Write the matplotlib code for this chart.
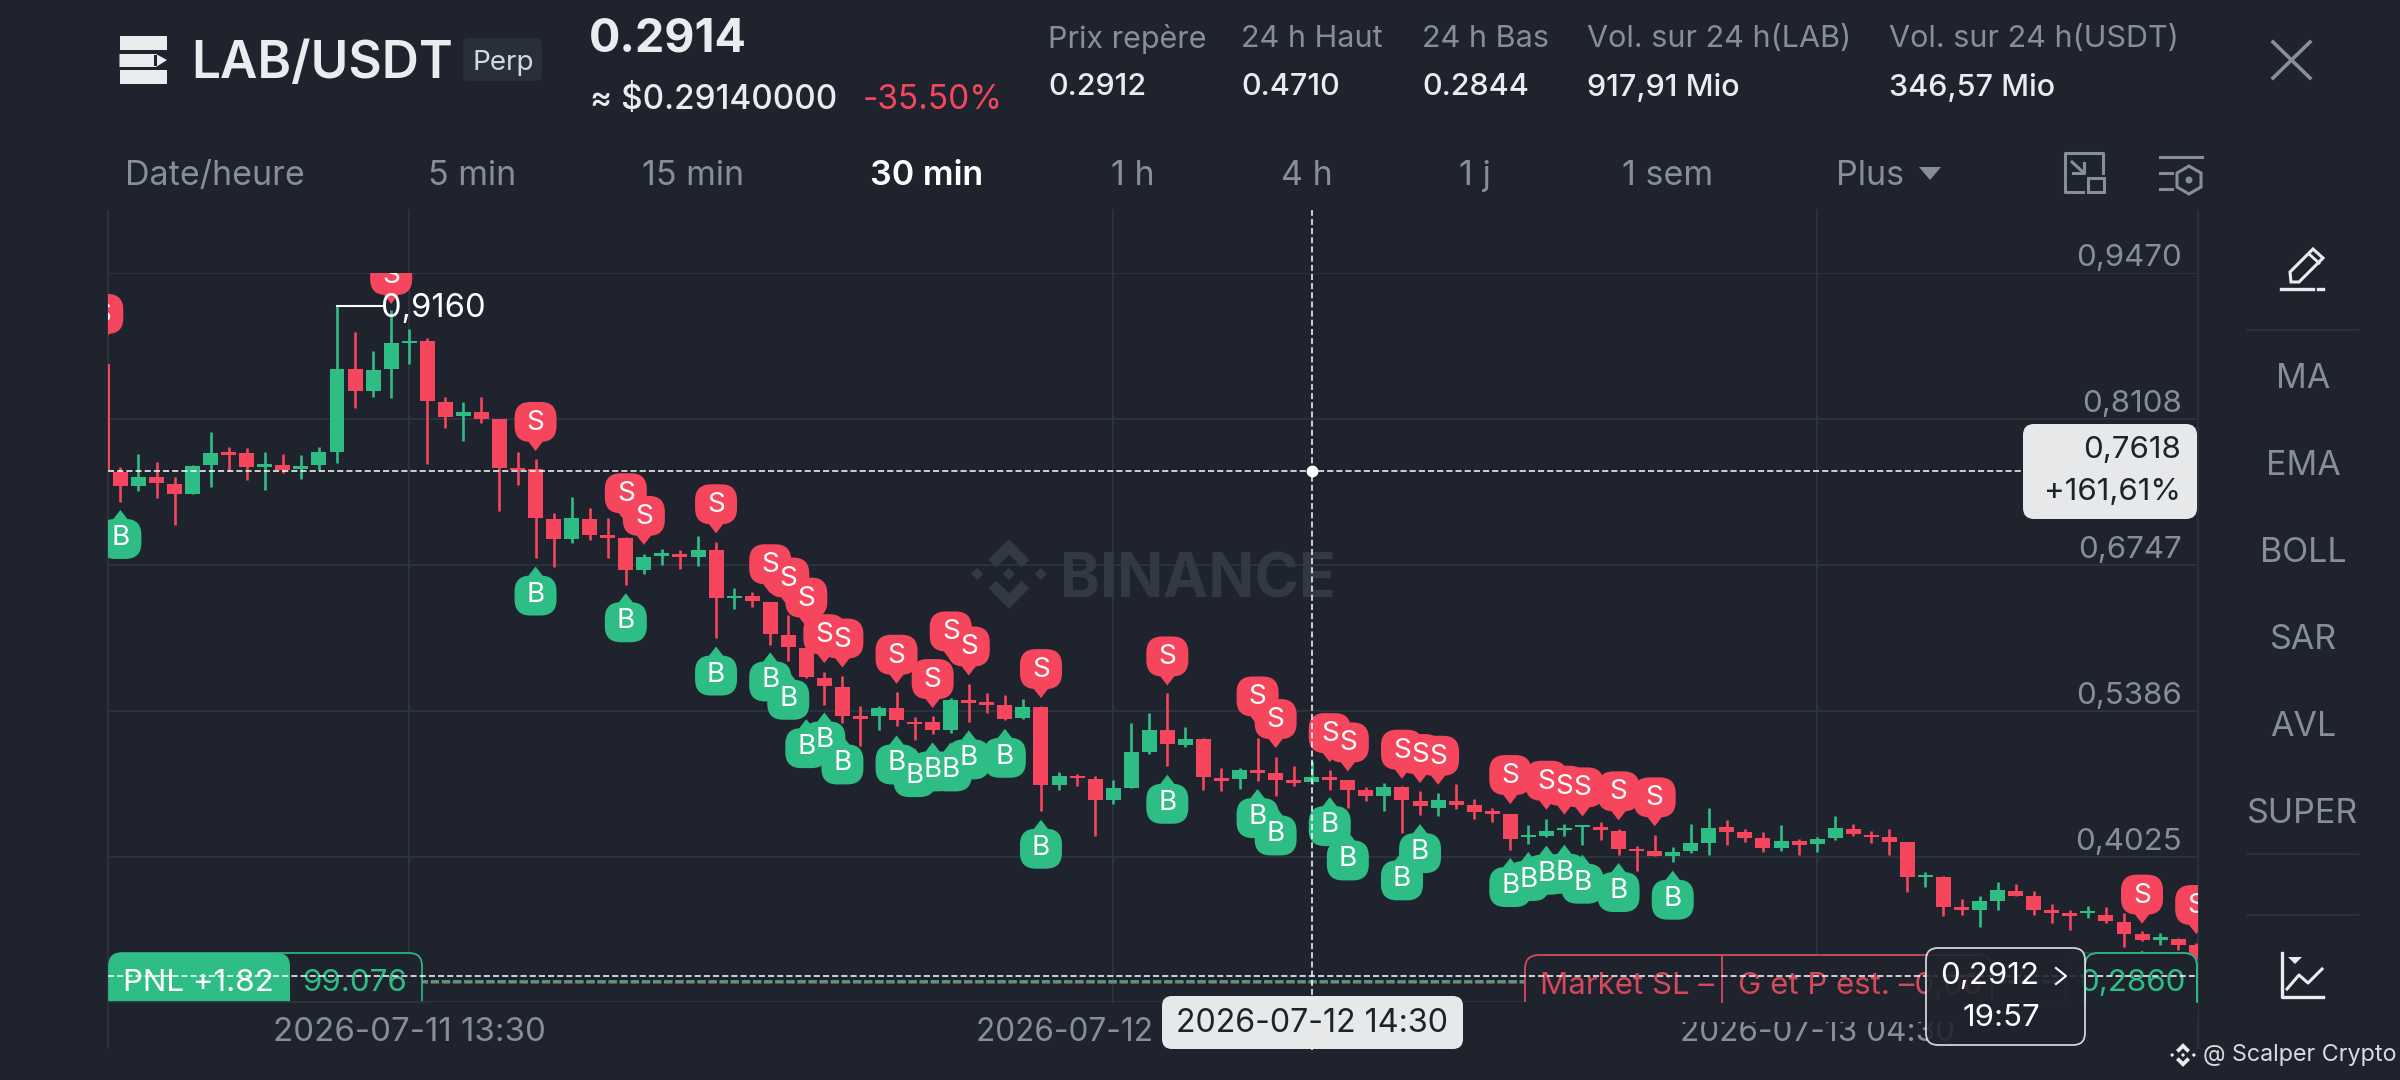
import matplotlib
matplotlib.use("Agg")
import matplotlib.pyplot as plt
from matplotlib.patches import FancyBboxPatch, PathPatch, Rectangle, Polygon, Circle
from matplotlib.path import Path
from matplotlib.transforms import Affine2D

plt.rcParams['font.family'] = ['Inter', 'DejaVu Sans']

BG = '#1e232e'
GRID = '#2e343e'
GREEN = '#2ebd85'
RED = '#f6465d'
GREY = '#878e9a'
WHITE = '#eaecef'
LIGHT = '#e6e8ea'
DARK = '#1e2329'

# candles, 30 min, index 17 = 2026-07-11 13:30
opens = [.8619, .7615, .7482, .7569, .7500, .7407, .7677, .7795, .7786, .7659,
         .7674, .7640, .7677, .7802, .8572, .8370, .8569, .8811, .8836, .8268,
         .8134, .8168, .8103, .7646, .7637, .7174, .6985, .7177, .7025, .6994,
         .6699, .6829, .6848, .6817, .6885, .6432, .6451, .6395, .6093, .5969,
         .5689, .5605, .5332, .5332, .5410, .5279, .5279, .5208, .5487, .5463,
         .5441, .5316, .5422, .4689, .4779, .4748, .4549, .4664, .5000, .5202,
         .5068, .5121, .4757, .4748, .4829, .4804, .4742, .4717, .4763, .4736,
         .4642, .4586, .4673, .4540, .4478, .4546, .4503, .4447, .4425, .4208,
         .4214, .4270, .4298, .4301, .4267, .4096, .4080, .4027, .4074, .4152,
         .4301, .4251, .4198, .4105, .4167, .4145, .4198, .4285, .4229, .4208,
         .4158, .3835, .3835, .3552, .3524, .3614, .3707, .3654, .3530, .3499,
         .3499, .3484, .3415, .3306, .3251, .3260, .3204]
highs = [.8625, .7662, .7777, .7708, .7569, .7677, .7982, .7842, .7833, .7795,
         .7780, .7767, .7848, .9160, .8920, .8740, .9122, .8942, .8858, .8314,
         .8268, .8314, .8109, .7795, .7733, .7227, .7382, .7273, .7180, .7009,
         .6848, .6894, .6885, .7016, .6957, .6528, .6497, .6401, .6280, .5969,
         .5751, .5711, .5425, .5431, .5559, .5323, .5332, .5503, .5633, .5550,
         .5534, .5494, .5425, .4810, .4795, .4779, .4742, .5270, .5363, .5550,
         .5233, .5127, .4850, .4850, .5130, .4953, .4866, .4913, .4835, .4742,
         .4670, .4711, .4680, .4633, .4617, .4702, .4562, .4478, .4425, .4316,
         .4378, .4332, .4316, .4347, .4285, .4127, .4229, .4114, .4329, .4478,
         .4369, .4282, .4251, .4316, .4192, .4204, .4406, .4329, .4267, .4285,
         .4161, .3878, .3841, .3630, .3661, .3785, .3769, .3701, .3586, .3530,
         .3567, .3552, .3499, .3328, .3313, .3266, .3219]
lows = [.7631, .7336, .7438, .7367, .7118, .7404, .7475, .7625, .7538, .7444,
        .7600, .7550, .7631, .7699, .8206, .8314, .8299, .8619, .7684, .8019,
        .7904, .8066, .7252, .7491, .6807, .6724, .6947, .6978, .6807, .6559,
        .6661, .6745, .6705, .6736, .6062, .6332, .6351, .6000, .5845, .5689,
        .5441, .5270, .5052, .5208, .5239, .5115, .5171, .5177, .5279, .5363,
        .5295, .5310, .4447, .4642, .4680, .4214, .4518, .4661, .4981, .4866,
        .5046, .4649, .4633, .4658, .4732, .4586, .4680, .4704, .4649, .4478,
        .4540, .4447, .4245, .4416, .4400, .4468, .4375, .4344, .4089, .4145,
        .4208, .4220, .4130, .4183, .4043, .3887, .4027, .3971, .4058, .4037,
        .4136, .4161, .4068, .4074, .4043, .4068, .4183, .4214, .4152, .4037,
        .3692, .3738, .3468, .3484, .3369, .3530, .3654, .3484, .3406, .3338,
        .3452, .3406, .3179, .3235, .3198, .3151, .3064]
closes = [.7631, .7485, .7569, .7506, .7407, .7671, .7792, .7767, .7662, .7684,
          .7631, .7671, .7795, .8572, .8370, .8560, .8811, .8836, .8277, .8128,
          .8168, .8106, .7646, .7631, .7180, .6985, .7180, .7025, .7000, .6699,
          .6823, .6854, .6817, .6885, .6435, .6451, .6404, .6099, .5975, .5699,
          .5618, .5332, .5307, .5410, .5295, .5261, .5208, .5481, .5456, .5438,
          .5310, .5419, .4689, .4779, .4757, .4549, .4661, .4996, .5202, .5077,
          .5121, .4763, .4732, .4829, .4804, .4742, .4711, .4767, .4742, .4649,
          .4586, .4673, .4549, .4493, .4549, .4509, .4441, .4425, .4192, .4229,
          .4267, .4288, .4316, .4276, .4096, .4074, .4027, .4068, .4152, .4291,
          .4251, .4198, .4105, .4167, .4136, .4192, .4291, .4235, .4208, .4161,
          .3832, .3856, .3552, .3524, .3608, .3710, .3654, .3530, .3499, .3474,
          .3521, .3421, .3306, .3251, .3275, .3198, .3095]

# trade bubbles: candle index and price of the bubble's tip
sell_idx = [0, 16, 24, 29, 30, 34, 37, 38, 39, 40, 41, 44, 46, 47, 48, 52, 59,
            64, 65, 68, 69, 72, 73, 74, 78, 80, 81, 82, 84, 86, 113, 116]
sell_tip = [.8815, .9178, .7808, .7143, .6932, .7040, .6481, .6357, .6170, .5829,
            .5788, .5637, .5410, .5854, .5714, .5503, .5621, .5248, .5037, .4906,
            .4819, .4751, .4711, .4695, .4515, .4462, .4416, .4400, .4363, .4307,
            .3400, .3303]
buy_idx = [1, 24, 29, 34, 37, 38, 39, 40, 41, 44, 45, 46, 47, 48, 50, 52, 59,
           64, 65, 68, 69, 72, 73, 78, 79, 80, 81, 82, 84, 87, 113]
buy_tip = [.7258, .6730, .6481, .5984, .5929, .5758, .5307, .5369, .5155, .5155,
           .5037, .5090, .5090, .5202, .5217, .4369, .4788, .4655, .4493, .4580,
           .4260, .4074, .4328, .4012, .4068, .4127, .4136, .4043, .3965, .3894,
           .3151]

price_ticks = [.9470, .8108, .6747, .5386, .4025]
price_labels = ['0,9470', '0,8108', '0,6747', '0,5386', '0,4025']
time_ticks = [17, 56, 95]
time_labels = ['2026-07-11 13:30', '2026-07-12 09:00', '2026-07-13 04:30']
cross_idx = 67
cross_price = .7618
last_price = .2912
entry_price = .2860

stat_names = ['Prix repère', '24 h Haut', '24 h Bas', 'Vol. sur 24 h(LAB)', 'Vol. sur 24 h(USDT)']
stat_values = ['0.2912', '0.4710', '0.2844', '917,91 Mio', '346,57 Mio']
stat_x = [1048, 1241, 1422, 1587, 1889]
periods = ['5 min', '15 min', '30 min', '1 h', '4 h', '1 j', '1 sem']
period_x = [472, 693, 927, 1133, 1307, 1475, 1668]
indicators = ['MA', 'EMA', 'BOLL', 'SAR', 'AVL', 'SUPER']
indicator_y = [377, 464, 551, 638, 725, 812]

fig = plt.figure(figsize=(24, 10.8), dpi=100, facecolor=BG)
# plot area runs 108..2198 px across, 272.7..1001.7 px down
ax = fig.add_axes([108 / 2400, 1 - 1001.7 / 1080, 2090 / 2400, 729 / 1080])
ax.set_facecolor('none')
ax.set_xlim(0.313, 116.1)
ax.set_ylim(.2672, .9470)
for s in ax.spines.values():
    s.set_visible(False)
ax.set_xticks([])
ax.set_yticks([])

# pixel coordinates of the screenshot, y going down, for the app's interface
ui = Affine2D().scale(1, -1).translate(0, 1080)


def ui_text(x, y, s, size, color=WHITE, ha='left', weight='normal', z=30):
    return ax.text(x, y + 3, s, fontsize=size, color=color, ha=ha, va='center',
                   fontweight=weight, transform=ui, clip_on=False, zorder=z)


def ui_line(xs, ys, color=WHITE, lw=1.5, z=30, **kw):
    ax.plot(xs, ys, color=color, lw=lw, transform=ui, clip_on=False, zorder=z, **kw)


def ui_box(x0, y0, x1, y1, r, fc, ec='none', lw=1.2, z=25, alpha=None):
    ax.add_patch(FancyBboxPatch((x0 + r, y0 + r), x1 - x0 - 2 * r, y1 - y0 - 2 * r,
                                boxstyle='round,pad=%f,rounding_size=%f' % (r, r),
                                fc=fc, ec=ec, lw=lw, transform=ui, clip_on=False,
                                zorder=z, alpha=alpha))


def ui_rect(x0, y0, x1, y1, fc=BG, ec='none', lw=1, z=9):
    ax.add_patch(Rectangle((x0, y0), x1 - x0, y1 - y0, fc=fc, ec=ec, lw=lw,
                           transform=ui, clip_on=False, zorder=z))


def ui_poly(pts, fc=WHITE, ec='none', lw=1, z=30):
    ax.add_patch(Polygon(pts, fc=fc, ec=ec, lw=lw, transform=ui, clip_on=False, zorder=z))


def diamond_logo(cx, cy, k, color, z=1):
    # Binance logo from small squares and chevrons
    for dx in [0, -1.55, 1.55]:
        ui_poly([(cx + (dx - .3) * k, cy), (cx + dx * k, cy - .3 * k),
                 (cx + (dx + .3) * k, cy), (cx + dx * k, cy + .3 * k)], fc=color, z=z)
    for sgn in [-1, 1]:
        ui_poly([(cx, cy + sgn * 1.7 * k), (cx + k, cy + sgn * .7 * k),
                 (cx + .62 * k, cy + sgn * .32 * k), (cx, cy + sgn * .94 * k),
                 (cx - .62 * k, cy + sgn * .32 * k), (cx - k, cy + sgn * .7 * k)], fc=color, z=z)


# grid
for p in price_ticks + [.2672]:
    ax.axhline(p, color=GRID, lw=1.3, zorder=1)
for t in time_ticks:
    ax.plot([t, t], [0, 1.086], color=GRID, lw=1.3, transform=ax.get_xaxis_transform(),
            clip_on=False, zorder=1)
ui_line([108, 108], [211, 1048], color=GRID, lw=1.3, z=1)
ui_line([2198, 2198], [211, 1048], color=GRID, lw=1.3, z=1)

for p, lab in zip(price_ticks, price_labels):
    ax.annotate(lab, xy=(1, p), xycoords=ax.get_yaxis_transform(), xytext=(-16, 15),
                textcoords='offset pixels', ha='right', va='center', fontsize=22.5,
                color=GREY, zorder=3)
for t, lab in zip(time_ticks, time_labels):
    # the 1s are narrow in this font, so the first label needs a larger size for the same width
    ax.annotate(lab, xy=(t, 0), xycoords=ax.get_xaxis_transform(), xytext=(0, -31),
                textcoords='offset pixels', ha='center', va='center',
                fontsize=23.8 if t == time_ticks[0] else 22.7,
                color=GREY, annotation_clip=False, zorder=3)

# watermark
diamond_logo(1009, 574, 20.5, '#333942')
ui_text(1060, 578, 'BINANCE', 43.5, color='#333942', weight='bold', z=1)

# candles
colors = [GREEN if c >= o else RED for o, c in zip(opens, closes)]
xs = list(range(len(opens)))
ax.vlines(xs, lows, highs, colors=colors, lw=1.9, zorder=4)
ax.bar(xs, [abs(c - o) for o, c in zip(opens, closes)],
       bottom=[min(o, c) for o, c in zip(opens, closes)],
       width=0.83, color=colors, lw=0, zorder=4)

# highest price note
ax.plot([13, 15.6], [.9160, .9160], color='white', lw=1.5, zorder=9)
ax.annotate('0,9160', xy=(13, .9160), xytext=(44, -3), textcoords='offset pixels',
            ha='left', va='center', fontsize=23.5, color='white', zorder=9)


def bubble(sign):
    w, h0, h1, r, t = 21, 9, 49, 16, 7
    pts = [(0, 0), (t, h0), (w - r, h0), (w, h0), (w, h0 + r), (w, h1 - r), (w, h1),
           (w - r, h1), (-w + r, h1), (-w, h1), (-w, h1 - r), (-w, h0 + r), (-w, h0),
           (-w + r, h0), (-t, h0), (0, 0)]
    codes = [Path.MOVETO, Path.LINETO, Path.LINETO, Path.CURVE3, Path.CURVE3, Path.LINETO,
             Path.CURVE3, Path.CURVE3, Path.LINETO, Path.CURVE3, Path.CURVE3, Path.LINETO,
             Path.CURVE3, Path.CURVE3, Path.LINETO, Path.CLOSEPOLY]
    return Path([(x, sign * y) for x, y in pts], codes)


def draw_bubbles(idx, tips, sign, color, letter):
    shape = bubble(sign)
    for i, p in zip(idx, tips):
        px, py = ax.transData.transform((i, p))
        ax.add_patch(PathPatch(shape, fc=color, ec='none', zorder=6,
                               transform=Affine2D().translate(px, py)))
        txt = ax.text(px, py + sign * 28, letter, fontsize=20, color='white', ha='center',
                      va='center', transform=Affine2D(), zorder=7)
        txt.set_clip_on(True)
        txt.set_clip_box(ax.bbox)


draw_bubbles(buy_idx, buy_tip, -1, GREEN, 'B')
draw_bubbles(sell_idx, sell_tip, 1, RED, 'S')

# crosshair
dash = (0, (4, 2))
ax.plot([cross_idx, cross_idx], [-.066, 1.086], color='white', lw=1.1, ls=dash,
        transform=ax.get_xaxis_transform(), clip_on=False, zorder=12)
ax.plot([0.313, 112.5], [cross_price, cross_price], color='white', lw=1.1, ls=dash, zorder=12)
ax.plot([cross_idx], [cross_price], color='white', marker='o', ms=7.5, zorder=13)

ui_box(2023, 424, 2197, 519, 11, LIGHT, z=14)
ui_text(2181, 447, '0,7618', 22.5, color=DARK, ha='right', z=15)
ui_text(2181, 489, '+161,61%', 22.5, color=DARK, ha='right', z=15)
ui_box(1162, 996, 1463, 1049, 10, LIGHT, z=14)
ui_text(1312, 1020, '2026-07-12 14:30', 23.2, color=DARK, ha='center', z=15)

# position lines and their boxes
ax.axhline(entry_price - .0008, color='#a3404f', lw=2, ls=(0, (3, 1)), zorder=8)
ax.axhline(entry_price + .0008, color='#45a47f', lw=2, ls=(0, (3, 1)), zorder=8)

ui_rect(108.5, 953, 421.5, 1002)
ui_box(109, 953, 422, 1012, 13, BG, ec=GREEN, z=9)
ui_rect(100, 1002, 430, 1016)
ui_box(109, 953, 290, 1012, 13, GREEN, z=9)
ui_rect(150, 970, 290, 1002, fc=GREEN)
ui_rect(100, 1002, 295, 1016)
ui_line([108, 108], [1002, 1048], color=GRID, lw=1.3, z=9)
ui_line([108, 425], [1002, 1002], color=GRID, lw=1.3, z=9)
ui_text(198, 980, 'PNL +1.82', 22.5, color='white', ha='center', z=10)
ui_text(355, 980, '99.076', 22.5, color=GREEN, ha='center', z=10)

# stop loss box, open at the bottom
ui_box(1525, 955, 1992, 1020, 14, BG, ec='#c9485a', lw=1.4, z=9)
ui_rect(1515, 1002, 2005, 1022)
ui_line([1722, 1722], [955, 1002], color='#c9485a', lw=1.4, z=10)
ui_text(1540, 983, 'Market SL –', 22.5, color='#d2495b', z=10)
ui_text(1738, 983, 'G et P est. –0,00', 22.5, color='#d2495b', z=10)

# take profit box
ui_box(2066, 953, 2197, 1020, 13, BG, ec='#3a4048', lw=1.3, z=9)
ui_box(2085, 953, 2197, 1020, 13, BG, ec=GREEN, lw=1.3, z=9)
ui_rect(2056, 1002, 2198, 1022)
ui_line([2197, 2197], [970, 1002], color=GREEN, lw=1.3, z=10)
ui_text(2132, 980, '0,2860', 22.5, color=GREEN, ha='center', z=10)

ax.axhline(last_price, color='white', lw=1.1, ls=dash, zorder=11)

ui_box(1926, 948, 2085, 1045, 12, BG, ec=WHITE, lw=1.3, z=16, alpha=.88)
ui_text(1990, 973, '0,2912', 22.5, color='white', ha='center', z=17)
ui_text(2001, 1015, '19:57', 22.5, color='white', ha='center', z=17)
ui_line([2056, 2066, 2056], [968, 976, 984], color='white', lw=1.5, z=17)

# header
ui_rect(119.5, 36, 167, 50, fc=WHITE, z=30)
ui_rect(119.5, 70, 167, 84, fc=WHITE, z=30)
ui_poly([(119.5, 54), (156, 54), (167, 60), (156, 67), (119.5, 67)])
ui_rect(154, 55, 157, 66, fc=BG, z=31)
ui_text(191, 61, 'LAB/USDT', 37, weight='semibold')
ui_box(463, 38, 542, 81, 6, '#292f3a', z=2)
ui_text(503, 60, 'Perp', 20, color='#d5d8dd', ha='center')
ui_text(589, 37, '0.2914', 33.5, weight='bold')
ui_text(590, 97, '≈ $0.29140000', 24, weight='medium')
ui_text(863, 97, '-35.50%', 24, color=RED)

for x, name, val in zip(stat_x, stat_names, stat_values):
    ui_text(x, 36, name, 22, color=GREY)
    ui_text(x, 84, val, 22, color=WHITE, weight='medium')

ui_line([2273, 2310], [42, 78], color=GREY, lw=2.6)
ui_line([2310, 2273], [42, 78], color=GREY, lw=2.6)

# period tabs
ui_text(125, 173, 'Date/heure', 24.5, color=GREY)
for x, lab in zip(period_x, periods):
    if lab == '30 min':
        ui_text(x, 173, lab, 24.5, color='white', ha='center', weight='semibold')
    else:
        ui_text(x, 173, lab, 24.5, color=GREY, ha='center')
ui_text(1870, 173, 'Plus', 24.5, color=GREY, ha='center')
ui_poly([(1919, 167), (1941, 167), (1930, 180)], fc=GREY)

# two small tool icons
ui_line([2083, 2065, 2065, 2103, 2103], [192, 192, 153, 153, 173], color=GREY, lw=2.2)
ui_rect(2088, 178, 2104, 192, fc='none', ec=GREY, lw=2.2, z=30)
ui_line([2072, 2084], [162, 173], color=GREY, lw=2.2)
ui_line([2084, 2084, 2073], [163, 173, 173], color=GREY, lw=2.2)
ui_line([2160, 2202], [157, 157], color=GREY, lw=2.2)
ui_line([2160, 2172], [173, 173], color=GREY, lw=2.2)
ui_line([2160, 2172], [189, 189], color=GREY, lw=2.2)
ui_poly([(2189, 166), (2201, 173), (2201, 187), (2189, 194), (2177, 187), (2177, 173)],
        fc='none', ec=GREY, lw=2.2)
ax.add_patch(Circle((2189, 180), 3.5, fc=GREY, ec='none', transform=ui, clip_on=False, zorder=30))

# side panel
ui_poly([(2290, 272), (2313, 249), (2323, 258), (2299, 282), (2291, 282)], fc='none', ec=WHITE, lw=2.2)
ui_line([2309, 2319], [254, 263], color=WHITE, lw=2)
ui_line([2281, 2313], [289, 289], color=WHITE, lw=2.4)
ui_line([2318, 2323], [289, 289], color=WHITE, lw=2.4)
for y in [330, 854, 915]:
    ui_line([2247, 2358], [y, y], color=GRID, lw=1.2)
for y, lab in zip(indicator_y, indicators):
    ui_text(2303, y - 1, lab, 24.5, color=GREY, ha='center')
ui_line([2282, 2282, 2323], [953, 997, 997], color=WHITE, lw=2.4)
ui_line([2287, 2299, 2308, 2322], [989, 975, 983, 969], color=WHITE, lw=2.2)
ui_poly([(2288, 957), (2302, 957), (2295, 964)])

# credit
diamond_logo(2183, 1055, 7, WHITE, z=30)
ui_text(2203, 1052, '@ Scalper Crypto', 16.8, color='#d8dbe0')

fig.savefig('out.png', dpi=100, facecolor=BG)
